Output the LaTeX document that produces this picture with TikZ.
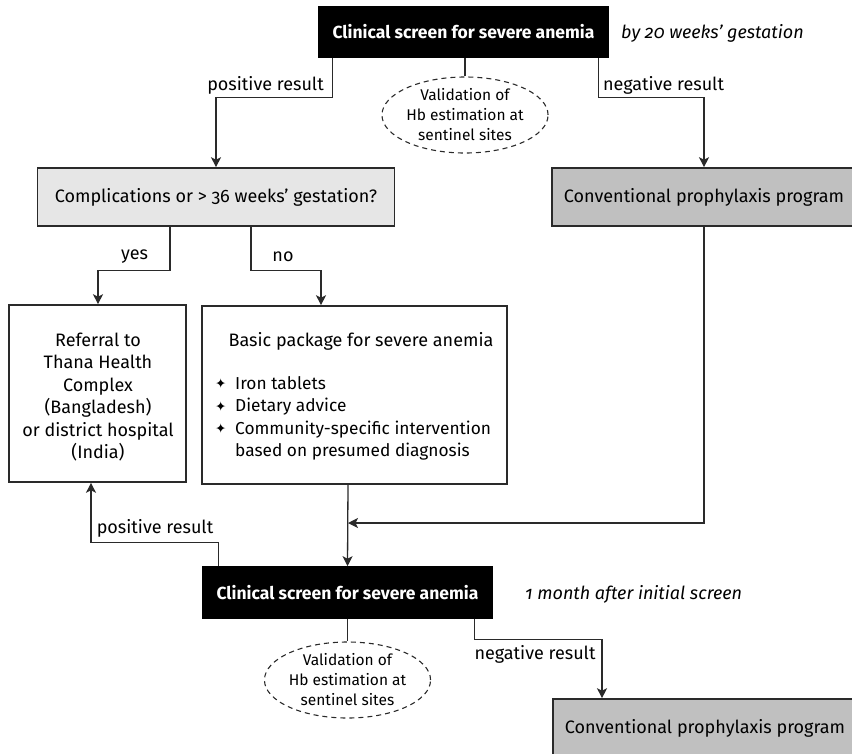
\documentclass[tikz,border=0pt]{standalone}
\usepackage{fontspec}
\setmainfont{Fira Sans}[Numbers=OldStyle]
\newfontfamily\symfnt{DejaVu Sans}
\usetikzlibrary{arrows.meta,shapes.geometric}
\definecolor{lightg}{HTML}{E6E6E6}
\definecolor{midg}{HTML}{C0C0C0}
\definecolor{ink}{HTML}{2A2A2A}
\newcommand\boxfont{\fontsize{18}{22.5}\selectfont}
\newcommand\listfont{\fontsize{17.3}{22.5}\selectfont}
\newcommand\headfont{\fontsize{17.5}{22}\selectfont\bfseries}
\newcommand\labfont{\fontsize{18}{20}\selectfont}
\newcommand\elfont{\fontsize{15.5}{20}\selectfont}
\newcommand\bul{\makebox[20pt][l]{\raisebox{0.3pt}{\symfnt\fontsize{13.5}{13.5}\selectfont ✦}}}
\begin{document}
\begin{tikzpicture}[x=1pt,y=-1pt,
  box/.style={draw=ink, line width=1.6pt, inner sep=0pt, font=\boxfont},
  blackbox/.style={box, draw=black, fill=black, text=white, font=\headfont},
  valel/.style={ellipse, draw=ink, line width=1.1pt, dash pattern=on 5pt off 4pt,
     minimum width=156pt, minimum height=76pt, inner sep=0pt, align=center, font=\elfont},
  lab/.style={inner sep=0pt, font=\labfont},
  note/.style={inner sep=0pt, anchor=west, font=\labfont\itshape},
  conn/.style={draw=ink, line width=1.3pt},
  arr/.style={conn, -{Stealth[length=10pt,width=10pt,inset=2.5pt]}}]
\useasboundingbox (0,0) rectangle (852,753);
\clip (0,0) rectangle (852,753);

% top screen
\node[blackbox, minimum width=290pt, minimum height=50pt] (top) at (463.5,32) {Clinical screen for severe anemia};
\node[note] (note1) at (621,33) {by 20 weeks' gestation};
\node[valel] (val1) at (465,115) {Validation of\\Hb estimation at\\sentinel sites};

\node[box, fill=lightg, minimum width=357pt, minimum height=58pt] (comp) at (216,197) {Complications or > 36 weeks' gestation?};
\node[box, fill=midg, minimum width=304pt, minimum height=58pt] (conv1) at (704,197) {Conventional prophylaxis program};

\node[box, minimum width=177pt, minimum height=177pt] (ref) at (97.5,393.5) {};
\node[inner sep=0pt, align=center, font=\boxfont] (reftext) at (98,397) {Referral to\\Thana Health\\Complex\\(Bangladesh)\\or district hospital\\(India)};

\node[box, minimum width=305pt, minimum height=178pt] (basic) at (354.5,395) {};
\node[inner sep=0pt, font=\boxfont] (basictitle) at (361,341) {Basic package for severe anemia};
\node[inner sep=0pt, anchor=north west, align=left, font=\listfont] (basiclist) at (215,376)
  {\bul Iron tablets\\\bul Dietary advice\\\bul Community-specific intervention\\\hphantom{\bul}based on presumed diagnosis};

% bottom screen
\node[blackbox, minimum width=290pt, minimum height=51pt] (top2) at (347.5,592.5) {Clinical screen for severe anemia};
\node[note] (note2) at (525,594) {1 month after initial screen};
\node[valel] (val2) at (347.5,680) {Validation of\\Hb estimation at\\sentinel sites};
\node[box, fill=midg, minimum width=304pt, minimum height=58pt] (conv2) at (705,728) {Conventional prophylaxis program};

\coordinate (merge) at (348,523);

% connectors
\draw[arr] ([xshift=14.5pt]top.south west) -- ++(0,40) -| (comp.north);
\draw[conn] (top.south -| val1.north) -- (val1.north);
\draw[arr] ([xshift=-10.5pt]top.south east) -- ++(0,40) -| (conv1.north);
\draw[arr] ([xshift=-46pt]comp.south) -- ++(0,44) -| ([xshift=0.5pt]ref.north);
\draw[arr] ([xshift=35pt]comp.south) -- ++(0,44) -| ([xshift=-33.5pt]basic.north);
\draw[arr] (conv1.south) |- (merge);
\draw[arr] ([xshift=-6.5pt]basic.south) -- (top2.north);
\draw[arr] ([xshift=16.5pt]top2.north west) -- ++(0,-24) -| ([xshift=-6.5pt]ref.south);
\draw[conn] (top2.south) -- (val2.north);
\draw[arr] ([xshift=-18.5pt]top2.south east) -- ++(0,21) -| ([xshift=-103pt]conv2.north);

% labels
\node[lab] (l1) at (265.5,85) {positive result};
\node[lab] (l2) at (663.5,85) {negative result};
\node[lab] (l3) at (134.5,257) {yes};
\node[lab] (l4) at (283,257) {no};
\node[lab] (l5) at (155,528) {positive result};
\node[lab] (l6) at (535,654) {negative result};
\end{tikzpicture}
\end{document}
